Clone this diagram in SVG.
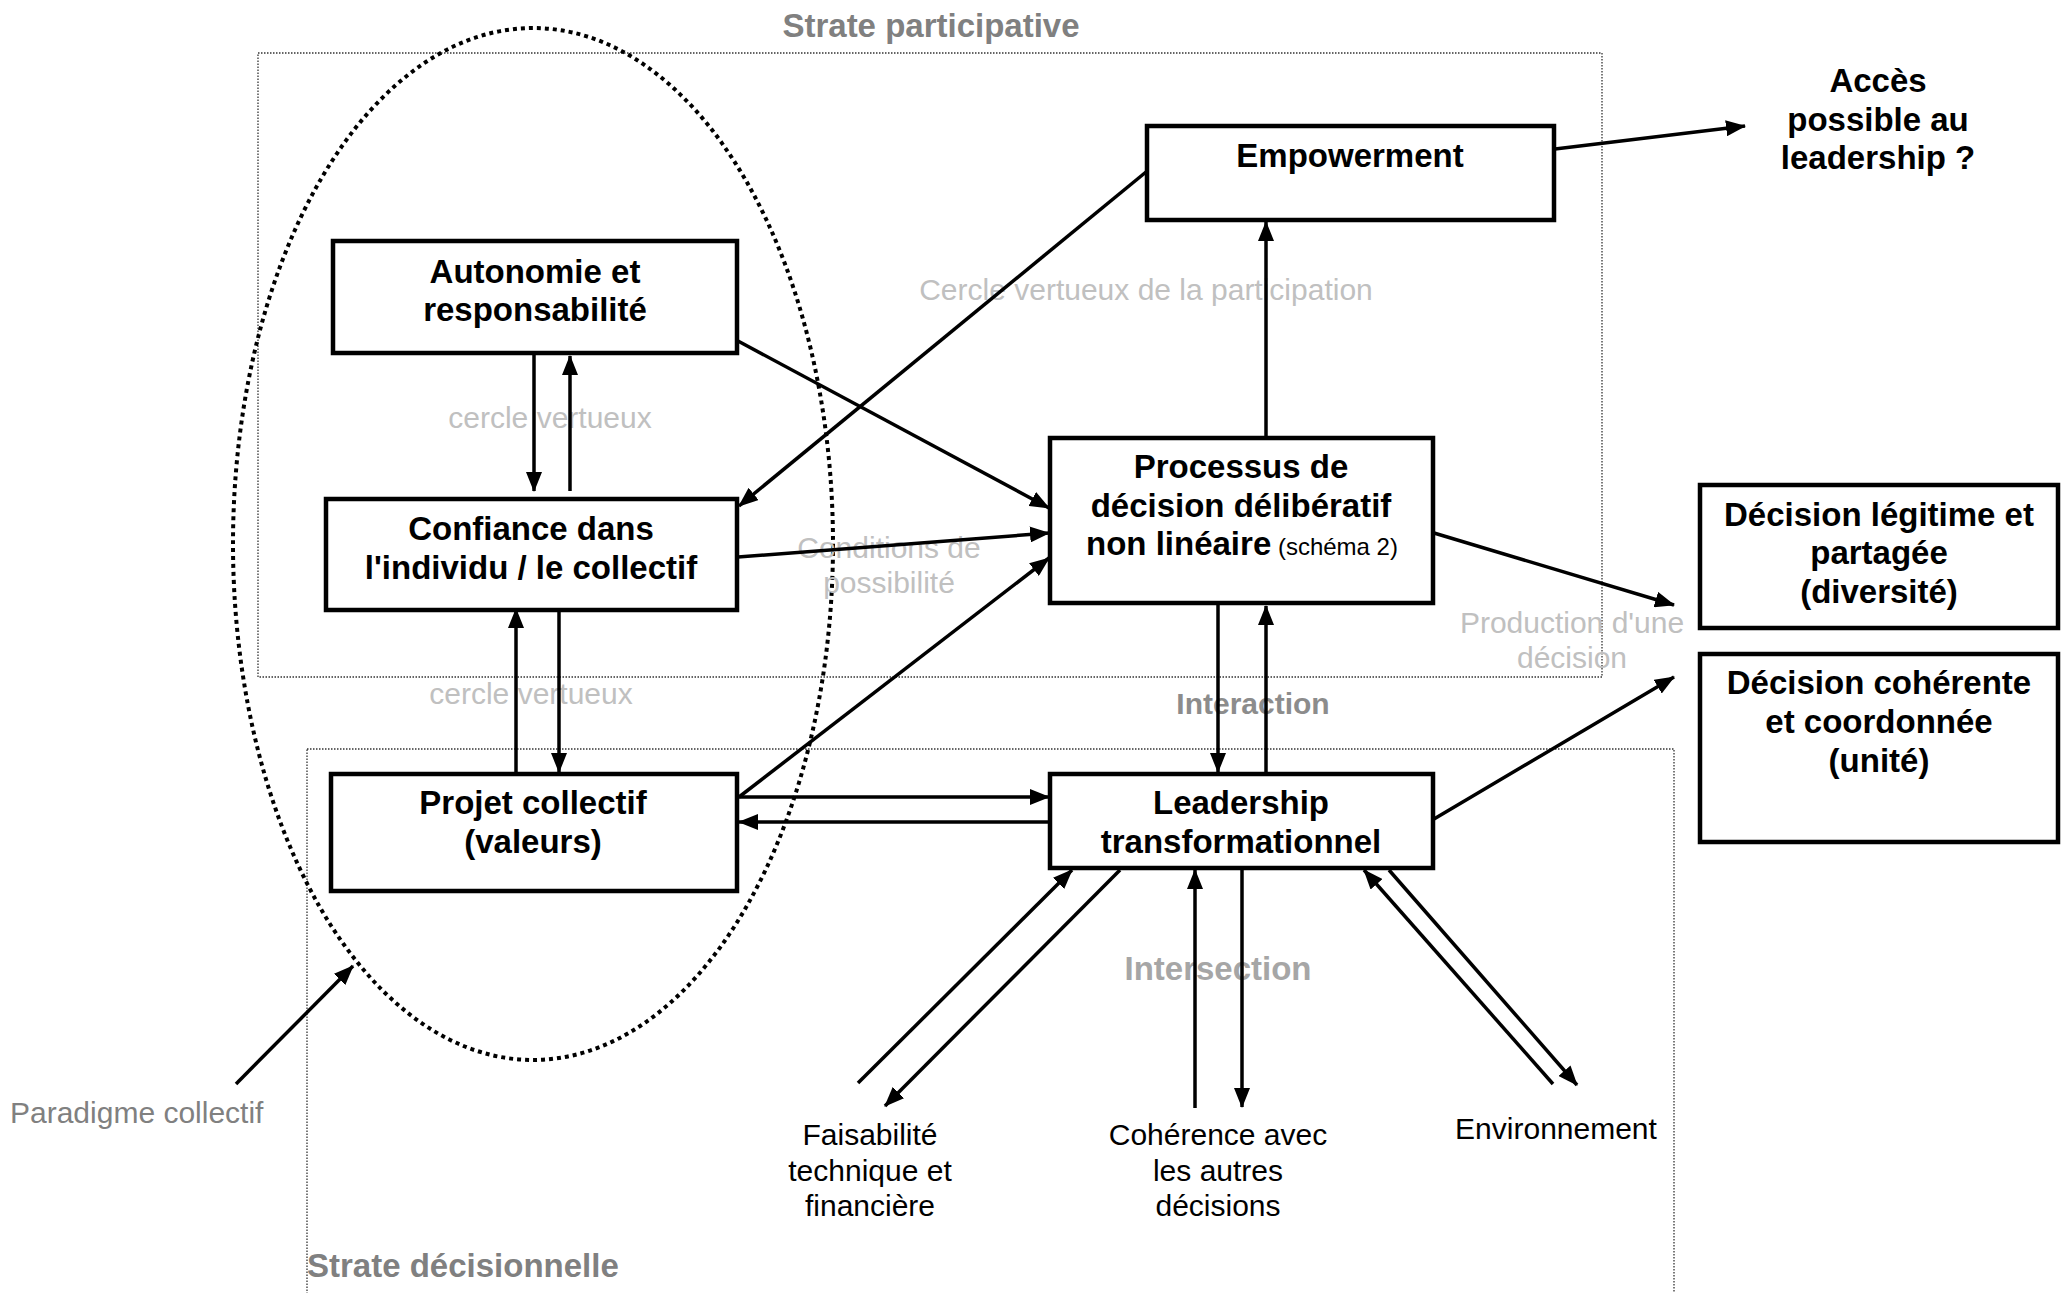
<svg xmlns="http://www.w3.org/2000/svg" width="2064" height="1293" viewBox="0 0 2064 1293">
<style>
text{font-family:"Liberation Sans",Arial,Helvetica,sans-serif}
.b{font-weight:bold;font-size:33px;fill:#000;text-anchor:middle}
.r{font-size:30px;fill:#000;text-anchor:middle}
.lg{font-size:30px;fill:#c0c0c0;text-anchor:middle}
.strate{font-weight:bold;font-size:33px;fill:#808080}
.box{fill:#fff;stroke:#000;stroke-width:4.5}
.c{stroke:#000;stroke-width:3.5;fill:none;marker-end:url(#ah)}
.zone{fill:none;stroke:#333;stroke-width:1.3;stroke-dasharray:1.5 1.5}
</style>
<defs>
<marker id="ah" markerUnits="userSpaceOnUse" markerWidth="20" markerHeight="16" refX="19" refY="8" orient="auto">
<path d="M0,0 L20,8 L0,16 z" fill="#000"/>
</marker>
</defs>
<rect width="2064" height="1293" fill="#fff"/>

<g id="zones">
<rect class="zone" x="258" y="53" width="1344" height="624"/>
<rect class="zone" x="307" y="749" width="1367" height="560"/>
<text class="strate" x="931" y="37" text-anchor="middle">Strate participative</text>
<text class="strate" x="307" y="1277">Strate décisionnelle</text>
</g>

<g id="paradigme">
<ellipse cx="533" cy="544" rx="300" ry="516" fill="none" stroke="#000" stroke-width="4" stroke-dasharray="4 4"/>
<text x="10" y="1123" font-size="30" fill="#808080">Paradigme collectif</text>
</g>

<g id="labels">
<text class="lg" x="550" y="428">cercle vertueux</text>
<text class="lg" x="531" y="704">cercle vertueux</text>
<text class="lg" x="1146" y="300">Cercle vertueux de la participation</text>
<text class="lg" x="889" y="558">Conditions de</text>
<text class="lg" x="889" y="593">possibilité</text>
<text class="lg" x="1572" y="633">Production d'une</text>
<text class="lg" x="1572" y="668">décision</text>
<text x="1253" y="714" font-size="30" font-weight="bold" fill="#8c8c8c" text-anchor="middle">Interaction</text>
<text x="1218" y="980" font-size="33" font-weight="bold" fill="#a6a6a6" text-anchor="middle">Intersection</text>
</g>

<g id="connectors">
<line class="c" x1="534" y1="354" x2="534" y2="491"/>
<line class="c" x1="570" y1="491" x2="570" y2="356"/>
<line class="c" x1="559" y1="608" x2="559" y2="772"/>
<line class="c" x1="516" y1="773" x2="516" y2="609"/>
<line class="c" x1="738" y1="341" x2="1049" y2="508"/>
<line class="c" x1="1146" y1="172" x2="739" y2="506"/>
<line class="c" x1="738" y1="557" x2="1049" y2="533"/>
<line class="c" x1="739" y1="797" x2="1049" y2="558"/>
<line class="c" x1="738" y1="797" x2="1049" y2="797"/>
<line class="c" x1="1049" y1="822" x2="739" y2="822"/>
<line class="c" x1="1266" y1="437" x2="1266" y2="222"/>
<line class="c" x1="1555" y1="149" x2="1745" y2="126" stroke-width="4.5"/>
<line class="c" x1="1218" y1="604" x2="1218" y2="772"/>
<line class="c" x1="1266" y1="773" x2="1266" y2="606"/>
<line class="c" x1="1434" y1="533" x2="1674" y2="605" stroke-width="4"/>
<line class="c" x1="1434" y1="819" x2="1674" y2="677"/>
<line class="c" x1="1120" y1="870" x2="885" y2="1106"/>
<line class="c" x1="858" y1="1083" x2="1072" y2="870"/>
<line class="c" x1="1195" y1="1108" x2="1195" y2="870"/>
<line class="c" x1="1242" y1="870" x2="1242" y2="1107"/>
<line class="c" x1="1553" y1="1084" x2="1364" y2="870"/>
<line class="c" x1="1389" y1="870" x2="1577" y2="1085"/>
<line class="c" x1="236" y1="1084" x2="353" y2="966"/>
</g>

<g id="autonomie">
<rect class="box" x="333" y="241" width="404" height="112"/>
<text class="b" x="535" y="283">Autonomie et</text>
<text class="b" x="535" y="321">responsabilité</text>
</g>
<g id="confiance">
<rect class="box" x="326" y="499" width="411" height="111"/>
<text class="b" x="531" y="540">Confiance dans</text>
<text class="b" x="531" y="579">l'individu / le collectif</text>
</g>
<g id="projet">
<rect class="box" x="331" y="774" width="406" height="117"/>
<text class="b" x="533" y="814">Projet collectif</text>
<text class="b" x="533" y="853">(valeurs)</text>
</g>
<g id="empowerment">
<rect class="box" x="1147" y="126" width="407" height="94"/>
<text class="b" x="1350" y="167">Empowerment</text>
</g>
<g id="processus">
<rect class="box" x="1050" y="438" width="383" height="165"/>
<text class="b" x="1241" y="478">Processus de</text>
<text class="b" x="1241" y="517">décision délibératif</text>
<text class="b" x="1242" y="555">non linéaire<tspan font-size="24" font-weight="normal"> (schéma 2)</tspan></text>
</g>
<g id="leadership">
<rect class="box" x="1050" y="774" width="383" height="94"/>
<text class="b" x="1241" y="814">Leadership</text>
<text class="b" x="1241" y="853">transformationnel</text>
</g>
<g id="acces">
<text class="b" x="1878" y="92">Accès</text>
<text class="b" x="1878" y="131">possible au</text>
<text class="b" x="1878" y="169">leadership ?</text>
</g>
<g id="decision-legitime">
<rect class="box" x="1700" y="485" width="358" height="143"/>
<text class="b" x="1879" y="526">Décision légitime et</text>
<text class="b" x="1879" y="564">partagée</text>
<text class="b" x="1879" y="603">(diversité)</text>
</g>
<g id="decision-coherente">
<rect class="box" x="1700" y="654" width="358" height="188"/>
<text class="b" x="1879" y="694">Décision cohérente</text>
<text class="b" x="1879" y="733">et coordonnée</text>
<text class="b" x="1879" y="772">(unité)</text>
</g>
<g id="faisabilite">
<text class="r" x="870" y="1145">Faisabilité</text>
<text class="r" x="870" y="1181">technique et</text>
<text class="r" x="870" y="1216">financière</text>
</g>
<g id="coherence">
<text class="r" x="1218" y="1145">Cohérence avec</text>
<text class="r" x="1218" y="1181">les autres</text>
<text class="r" x="1218" y="1216">décisions</text>
</g>
<g id="environnement">
<text class="r" x="1556" y="1139">Environnement</text>
</g>
</svg>
